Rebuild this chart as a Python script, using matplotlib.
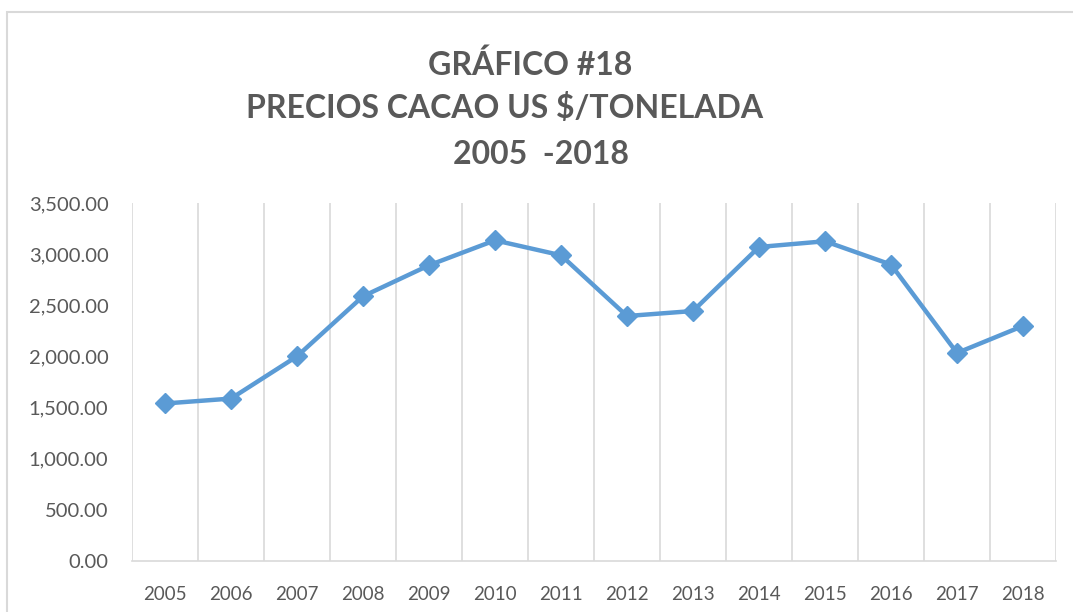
import matplotlib
matplotlib.use("Agg")
import matplotlib.pyplot as plt
from matplotlib.patches import Rectangle
from matplotlib.ticker import FuncFormatter

years = ["2005", "2006", "2007", "2008", "2009", "2010", "2011",
         "2012", "2013", "2014", "2015", "2016", "2017", "2018"]
prices = [1540, 1588, 2001, 2588, 2891, 3135, 2989,
          2395, 2444, 3070, 3126, 2898, 2034, 2298]

title_lines = ["GRÁFICO #18", "PRECIOS CACAO US $/TONELADA", "2005  -2018"]

text_grey = "#595959"
grid_grey = "#D9D9D9"
line_blue = "#5B9BD5"

plt.rcParams["font.family"] = ["Lato", "DejaVu Sans"]

fig = plt.figure(figsize=(10.73, 6.12), dpi=100)
ax = fig.add_axes([132 / 1073, 1 - 561 / 612, (1056 - 132) / 1073, (561 - 203) / 612])

x = list(range(len(years)))
ax.plot(x, prices, color=line_blue, linewidth=3.2, marker="D", markersize=10.5,
        markerfacecolor=line_blue, markeredgecolor=line_blue, zorder=3)

ax.set_xlim(-0.5, len(years) - 0.5)
ax.set_ylim(0, 3500)
ax.set_yticks(range(0, 3501, 500))
ax.yaxis.set_major_formatter(FuncFormatter(lambda v, _: f"{v:,.2f}"))
ax.set_xticks(x)
ax.set_xticklabels(years)

# vertical separators between categories
for b in range(len(years) + 1):
    ax.axvline(b - 0.5, color=grid_grey, linewidth=1.2, zorder=1)

for side in ["top", "right", "left"]:
    ax.spines[side].set_visible(False)
ax.spines["bottom"].set_color(grid_grey)
ax.spines["bottom"].set_linewidth(1.2)

ax.tick_params(axis="both", length=0, colors=text_grey)
ax.tick_params(axis="x", pad=18, labelsize=13.5)
ax.tick_params(axis="y", pad=17, labelsize=14.5)

title_pos = [(530, 65), (505, 108), (541, 155)]
for line, (xp, yp) in zip(title_lines, title_pos):
    fig.text(xp / 1073, 1 - yp / 612, line, ha="center", va="center",
             fontsize=23, fontweight="bold", color=text_grey)

# chart frame
fig.patches.append(Rectangle((7 / 1073, -0.05), 1.2, 1 - 12 / 612 + 0.05,
                             transform=fig.transFigure, fill=False,
                             edgecolor=grid_grey, linewidth=1.5))

fig.savefig("out.png", dpi=100)
